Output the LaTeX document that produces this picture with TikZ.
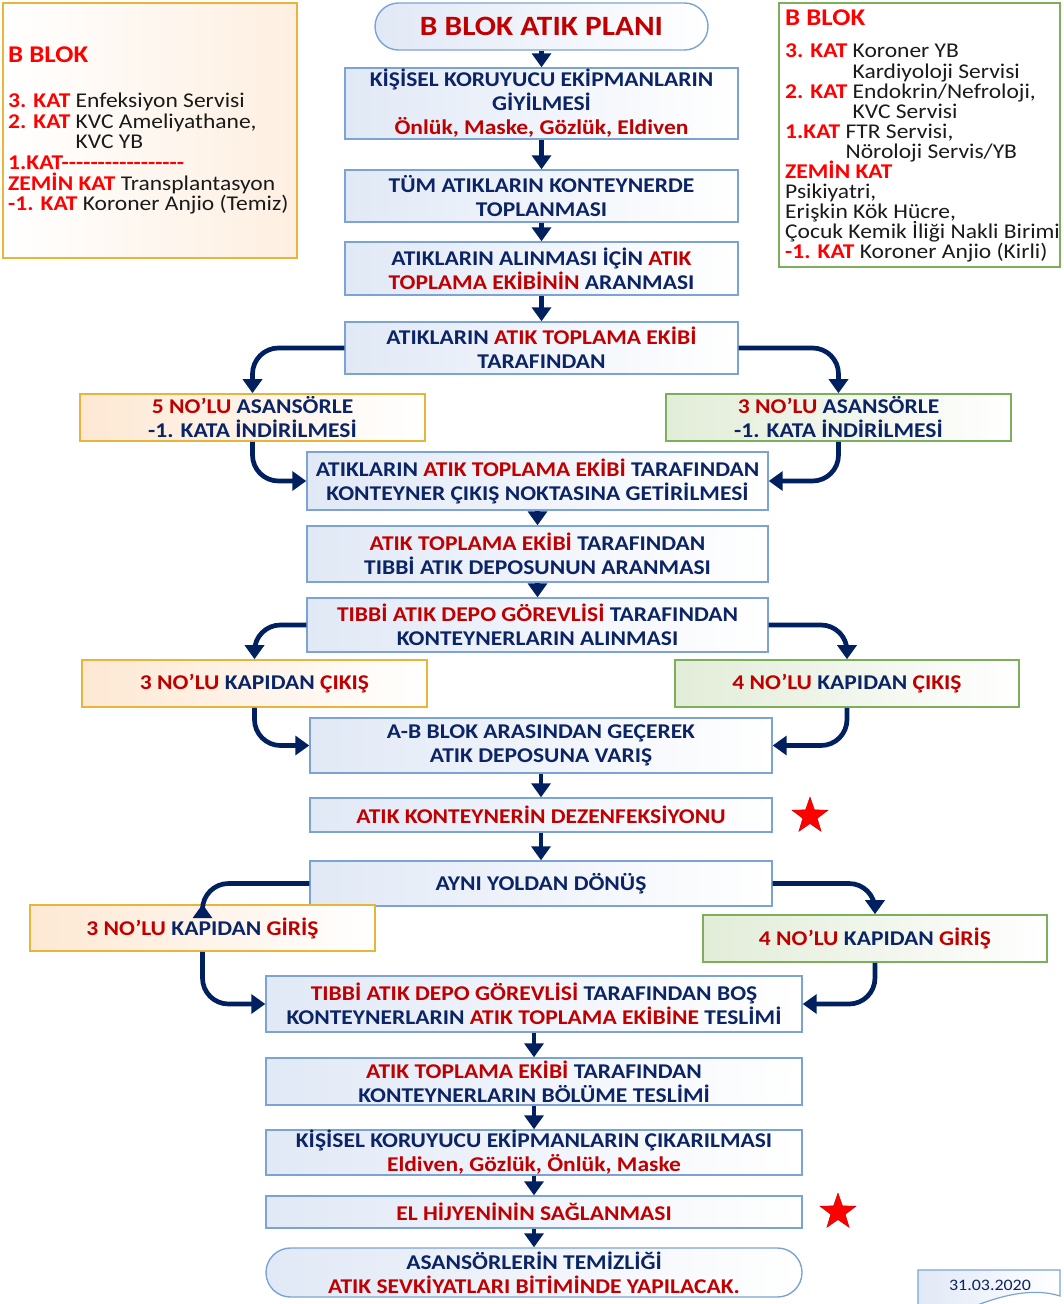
\documentclass[tikz,border=0pt]{standalone}
\usepackage{fontspec}
\setmainfont{Carlito}[FakeStretch=1.12]
\usetikzlibrary{shapes.misc,shapes.geometric,arrows.meta}

\definecolor{txtnavy}{HTML}{0B2466}
\definecolor{txtred}{HTML}{C00000}
\definecolor{infored}{HTML}{FF0000}
\definecolor{infotxt}{HTML}{1A1A1A}
\definecolor{arrownavy}{HTML}{002060}
\definecolor{boxline}{HTML}{7BA3D6}
\definecolor{boxfill}{HTML}{E1E9F6}
\definecolor{orline}{HTML}{E8B53A}
\definecolor{orfill}{HTML}{FDE8D3}
\definecolor{grline}{HTML}{7DAF5A}
\definecolor{grfill}{HTML}{E2EDD8}

\newcommand\boxfont{\bfseries\fontsize{21}{24}\selectfont}
\newcommand\infofontL{\fontsize{21}{20.6}\selectfont\lineskiplimit=-20pt\lineskip=0pt}
\newcommand\infofontR{\fontsize{21}{20.1}\selectfont\lineskiplimit=-20pt\lineskip=0pt}
\newcommand\redpart[1]{\textcolor{txtred}{#1}}
\newcommand\infolab[1]{\textcolor{infored}{\bfseries #1}}
\newcommand\hyphenrow{-\kern0pt-\kern0pt-\kern0pt-\kern0pt-\kern0pt-\kern0pt-\kern0pt-\kern0pt-\kern0pt-\kern0pt-\kern0pt-\kern0pt-\kern0pt-\kern0pt-\kern0pt-\kern0pt-}

\tikzset{
  wh/.style 2 args={minimum width=#1pt, minimum height=#2pt},
  base/.style={align=center, inner sep=0pt, font=\boxfont, text=txtnavy},
  proc/.style={base, rectangle, draw=boxline, line width=1.4pt, left color=boxfill, right color=white},
  orbox/.style={base, rectangle, draw=orline, line width=1.6pt, left color=orfill, right color=white},
  grbox/.style={base, rectangle, draw=grline, line width=1.6pt, left color=grfill, right color=white},
  term/.style={base, rounded rectangle, draw=boxline, line width=1.4pt, left color=boxfill, right color=white},
  conn/.style={draw=arrownavy, line width=4.7pt, -{Triangle[width=19pt,length=14pt]}},
  curved/.style={conn, rounded corners=26pt},
  redstar/.style={star, star points=5, star point ratio=2.5, fill=red, draw=red!75!black, line width=0.4pt, minimum size=38pt, inner sep=0pt},
  infotext/.style={align=left, inner sep=0pt, text=infotxt, anchor=north west},
  infohead/.style={inner sep=0pt, font=\bfseries\fontsize{24}{26}\selectfont, text=infored, anchor=west}
}

\begin{document}
\begin{tikzpicture}[x=1pt, y=-1pt]
\useasboundingbox (0,0) rectangle (1064,1304);

% floor lists
\node[rectangle, draw=orline, line width=1.6pt, left color=white, right color=orfill!70, wh={294}{255}] (infoL) at (150,130.5) {};
\node[infohead] (infoLh) at (8,55) {B BLOK};
\node[infotext, font=\infofontL] (infoLb) at (8,93) {%
\infolab{3. KAT} Enfeksiyon Servisi\\
\infolab{2. KAT} KVC Ameliyathane,\\
\phantom{\bfseries 2. KAT} KVC YB\\
\infolab{1.KAT\hyphenrow}\\
\infolab{ZEMİN KAT} Transplantasyon\\
\infolab{-1. KAT} Koroner Anjio (Temiz)};

\node[rectangle, draw=grline, line width=1.6pt, fill=white, wh={281}{264}] (infoR) at (919.5,135) {};
\node[infohead] (infoRh) at (785,18) {B BLOK};
\node[infotext, font=\infofontR] (infoRb) at (785,44) {%
\infolab{3. KAT} Koroner YB\\
\phantom{\bfseries 3. KAT} Kardiyoloji Servisi\\
\infolab{2. KAT} Endokrin/Nefroloji,\\
\phantom{\bfseries 2. KAT} KVC Servisi\\
\infolab{1.KAT} FTR Servisi,\\
\phantom{\bfseries 1.KAT} Nöroloji Servis/YB\\
\infolab{ZEMİN KAT}\\
Psikiyatri,\\
Erişkin Kök Hücre,\\
Çocuk Kemik İliği Nakli Birimi\\
\infolab{-1. KAT} Koroner Anjio (Kirli)};

% flow
\node[term, wh={333}{47}, font=\bfseries\fontsize{28}{30}\selectfont, text=txtred] (title) at (541.5,26.5) {B BLOK ATIK PLANI};
\node[proc, wh={393}{71}] (b1) at (541.5,103.5) {KİŞİSEL KORUYUCU EKİPMANLARIN\\GİYİLMESİ\\\redpart{Önlük, Maske, Gözlük, Eldiven}};
\node[proc, wh={393}{52}] (b2) at (541.5,196) {TÜM ATIKLARIN KONTEYNERDE\\TOPLANMASI};
\node[proc, wh={393}{53}] (b3) at (541.5,268.5) {ATIKLARIN ALINMASI İÇİN \redpart{ATIK}\\\redpart{TOPLAMA EKİBİNİN} ARANMASI};
\node[proc, wh={393}{52}] (b4) at (541.5,348) {ATIKLARIN \redpart{ATIK TOPLAMA EKİBİ}\\TARAFINDAN};
\node[orbox, wh={345}{47}] (o1) at (252.5,417.5) {\redpart{5 NO’LU} ASANSÖRLE\\-1. KATA İNDİRİLMESİ};
\node[grbox, wh={345}{47}] (g1) at (838.5,417.5) {\redpart{3 NO’LU} ASANSÖRLE\\-1. KATA İNDİRİLMESİ};
\node[proc, wh={461}{58}] (b5) at (537.5,481) {ATIKLARIN \redpart{ATIK TOPLAMA EKİBİ} TARAFINDAN\\KONTEYNER ÇIKIŞ NOKTASINA GETİRİLMESİ};
\node[proc, wh={461}{56}] (b6) at (537.5,554) {\redpart{ATIK TOPLAMA EKİBİ} TARAFINDAN\\TIBBİ ATIK DEPOSUNUN ARANMASI};
\node[proc, wh={461}{54}] (b7) at (537.5,625) {\redpart{TIBBİ ATIK DEPO GÖREVLİSİ} TARAFINDAN\\KONTEYNERLARIN ALINMASI};
\node[orbox, wh={345}{47}] (o2) at (254.5,683.5) {\redpart{3 NO’LU} KAPIDAN \redpart{ÇIKIŞ}};
\node[grbox, wh={344}{47}] (g2) at (847,683.5) {\redpart{4 NO’LU} KAPIDAN \redpart{ÇIKIŞ}};
\node[proc, wh={462}{55}] (b8) at (541,745.5) {A-B BLOK ARASINDAN GEÇEREK\\ATIK DEPOSUNA VARIŞ};
\node[proc, wh={462}{34}, text=txtred] (b9) at (541,815) {ATIK KONTEYNERİN DEZENFEKSİYONU};
\node[redstar] (s1) at (810,816) {};
\node[proc, wh={462}{45}] (b10) at (541,883.5) {AYNI YOLDAN DÖNÜŞ};
\node[orbox, wh={345}{46}] (o3) at (202.5,928) {\redpart{3 NO’LU} KAPIDAN \redpart{GİRİŞ}};
\node[grbox, wh={344}{47}] (g3) at (875,938.5) {\redpart{4 NO’LU} KAPIDAN \redpart{GİRİŞ}};
\node[proc, wh={536}{56}] (b11) at (534,1004) {\redpart{TIBBİ ATIK DEPO GÖREVLİSİ} TARAFINDAN BOŞ\\KONTEYNERLARIN \redpart{ATIK TOPLAMA EKİBİNE} TESLİMİ};
\node[proc, wh={536}{47}] (b12) at (534,1081.5) {\redpart{ATIK TOPLAMA EKİBİ} TARAFINDAN\\KONTEYNERLARIN BÖLÜME TESLİMİ};
\node[proc, wh={536}{45}] (b13) at (534,1152.5) {KİŞİSEL KORUYUCU EKİPMANLARIN ÇIKARILMASI\\\redpart{Eldiven, Gözlük, Önlük, Maske}};
\node[proc, wh={536}{32}, text=txtred] (b14) at (534,1212) {EL HİJYENİNİN SAĞLANMASI};
\node[redstar] (s2) at (838,1212) {};
\node[term, wh={536}{49}] (t2) at (534,1272.5) {ASANSÖRLERİN TEMİZLİĞİ\\\redpart{ATIK SEVKİYATLARI BİTİMİNDE YAPILACAK.}};

% date tag (document shape)
\coordinate (dTL) at (918,1270);
\coordinate (dTR) at (1060,1270);
\draw[draw=boxline, line width=1.2pt, left color=boxfill, right color=white]
  (918,1306) -- (dTL) -- (dTR) -- (1060,1296)
  .. controls (1035,1288) and (1005,1294) .. (975,1306);
\node[inner sep=0pt, font=\fontsize{16}{18}\selectfont, text=txtnavy] (date) at (990,1285) {31.03.2020};

% straight connectors
\foreach \a/\b in {title/b1, b1/b2, b2/b3, b3/b4, b5/b6, b6/b7, b8/b9, b9/b10, b11/b12, b12/b13, b13/b14, b14/t2}
  \draw[conn] (\a.south) -- (\a.south |- \b.north);

% branching connectors
\draw[curved] (b4.west) -| (o1.north);
\draw[curved] (b4.east) -| (g1.north);
\draw[curved] (o1.south) |- (b5.west);
\draw[curved] (g1.south) |- (b5.east);
\draw[curved] (b7.west) -| (o2.north);
\draw[curved] (b7.east) -| (g2.north);
\draw[curved] (o2.south) |- (b8.west);
\draw[curved] (g2.south) |- (b8.east);
\draw[curved] (b10.west) -| (o3.north);
\draw[curved] (b10.east) -| (g3.north);
\draw[curved] (o3.south) |- (b11.west);
\draw[curved] (g3.south) |- (b11.east);
\end{tikzpicture}
\end{document}
